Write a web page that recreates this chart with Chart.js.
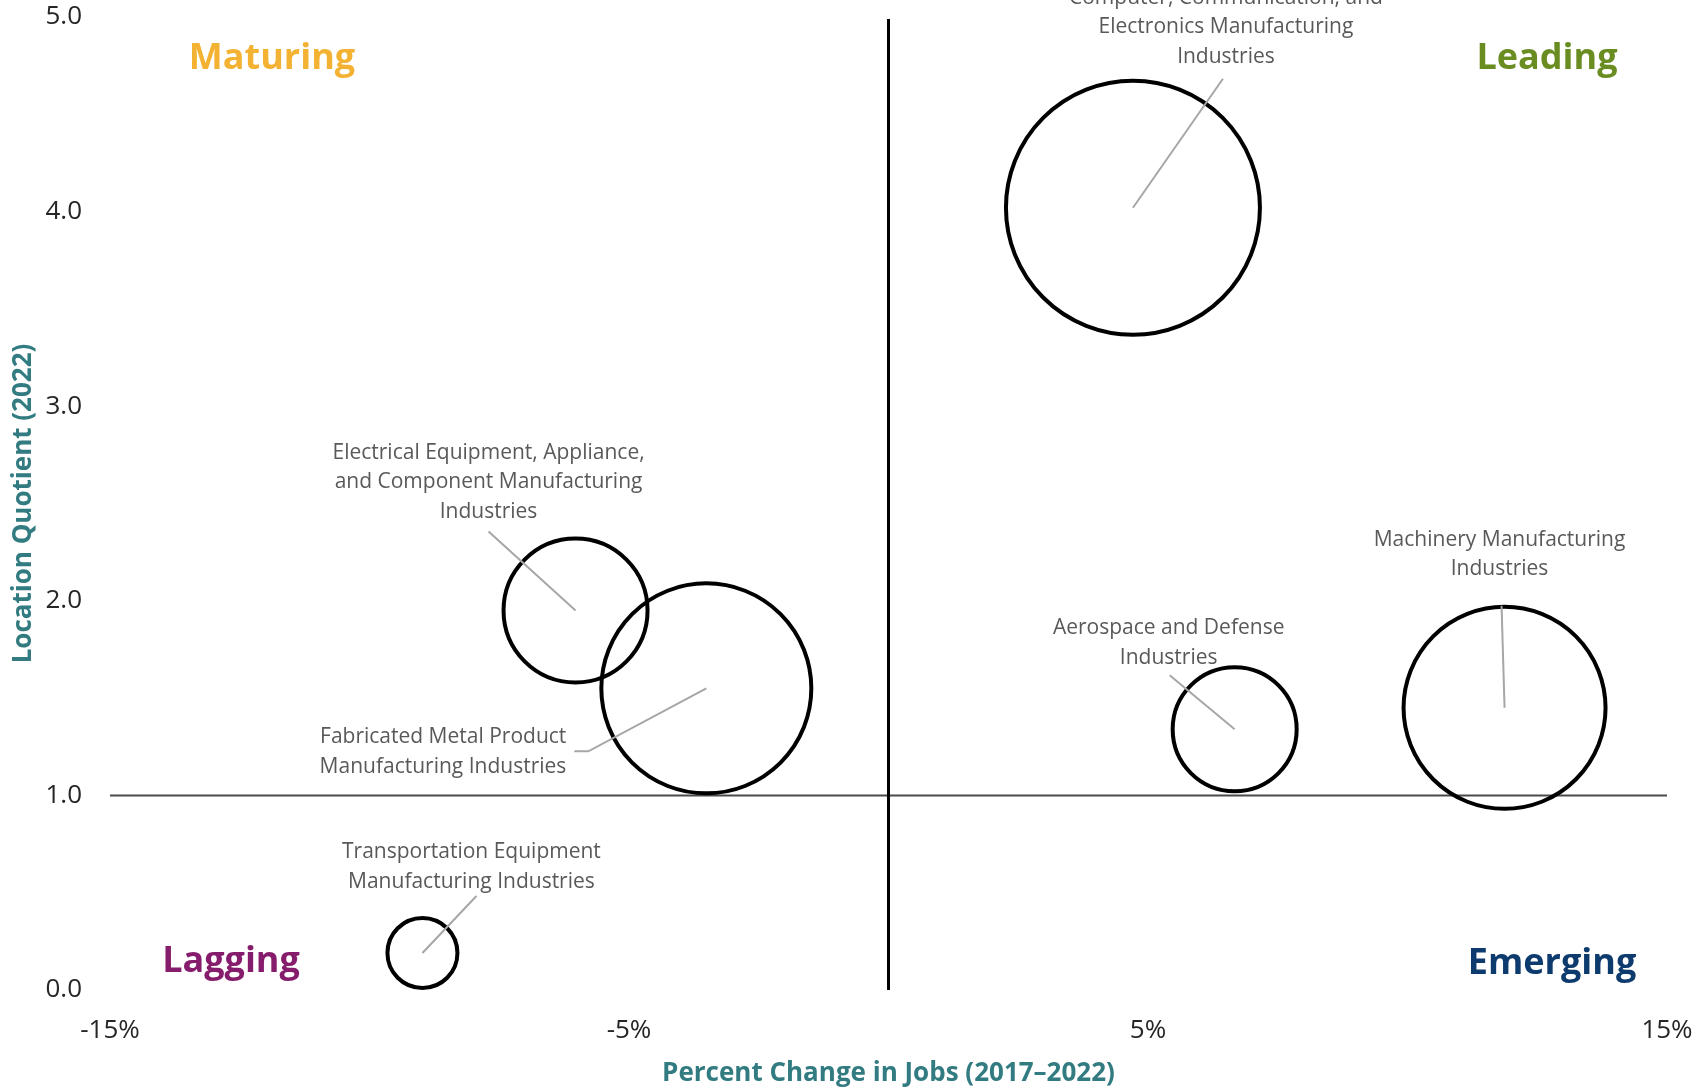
<!DOCTYPE html>
<html>
<head>
<meta charset="utf-8">
<script src="https://cdn.jsdelivr.net/npm/chart.js@4.4.0/dist/chart.umd.min.js"></script>
<style>
  html, body { margin: 0; padding: 0; background: #fff; }
  #wrap { width: 1707px; height: 1089px; position: relative; }
</style>
</head>
<body>
<div id="wrap"><canvas id="chart"></canvas></div>
<script>
// industry clusters: job change 2017-2022 (%), location quotient 2022, bubble size
const industries = [
  ["Computer, Communication, and", "Electronics Manufacturing", "Industries"],
  ["Electrical Equipment, Appliance,", "and Component Manufacturing", "Industries"],
  ["Fabricated Metal Product", "Manufacturing Industries"],
  ["Transportation Equipment", "Manufacturing Industries"],
  ["Aerospace and Defense", "Industries"],
  ["Machinery Manufacturing", "Industries"]
];
const jobChange = [4.71, -6.03, -3.51, -8.98, 6.67, 11.87];
const locationQuotient = [4.02, 1.95, 1.55, 0.19, 1.34, 1.45];
const bubbleSize = [127, 72, 105, 35, 62, 101];

const xTicks = [-15, -5, 5, 15];
const yTicks = [0, 1, 2, 3, 4, 5];

const quadrants = ["Maturing", "Leading", "Lagging", "Emerging"];
const quadrantColors = ["#F4B233", "#6A8D22", "#861C6C", "#0E3B6D"];

// where each callout sits relative to its bubble centre (px)
const callouts = [
  { line: [[90, -129]], tx: 93, ty: -210, align: "center" },
  { line: [[-87, -79]], tx: -87, ty: -158, align: "center" },
  { line: [[-118, 63], [-132, 63]], tx: -140, ty: 49, align: "right" },
  { line: [[54, -57]], tx: 49, ty: -101, align: "center" },
  { line: [[-65, -54]], tx: -66, ty: -101, align: "center" },
  { line: [[-3, -102]], tx: -5, ty: -168, align: "center" }
];

const FONT = "'Open Sans', 'Noto Sans', sans-serif";
const teal = "#327B80";

const quadrantLines = {
  id: "quadrantLines",
  beforeDatasetsDraw(chart) {
    const { ctx, chartArea: a, scales: { x, y } } = chart;
    ctx.save();
    const y1 = y.getPixelForValue(1);
    ctx.strokeStyle = "#4a4a4a";
    ctx.lineWidth = 2;
    ctx.beginPath();
    ctx.moveTo(a.left, y1);
    ctx.lineTo(a.right, y1);
    ctx.stroke();
    const x0 = x.getPixelForValue(0);
    ctx.strokeStyle = "#000";
    ctx.lineWidth = 3;
    ctx.beginPath();
    ctx.moveTo(x0, a.top + 2);
    ctx.lineTo(x0, a.bottom);
    ctx.stroke();
    ctx.restore();
  }
};

const annotations = {
  id: "annotations",
  afterDatasetsDraw(chart) {
    const { ctx, chartArea: a } = chart;
    const meta = chart.getDatasetMeta(0);
    ctx.save();
    meta.data.forEach((pt, i) => {
      const c = callouts[i];
      ctx.strokeStyle = "#a6a6a6";
      ctx.lineWidth = 2;
      ctx.beginPath();
      ctx.moveTo(pt.x, pt.y);
      c.line.forEach(([dx, dy]) => ctx.lineTo(pt.x + dx, pt.y + dy));
      ctx.stroke();
      ctx.fillStyle = "#595959";
      ctx.font = "21px " + FONT;
      ctx.textAlign = c.align;
      ctx.textBaseline = "middle";
      industries[i].forEach((txt, k) => {
        ctx.fillText(txt, pt.x + c.tx, pt.y + c.ty + k * 29.5);
      });
    });

    // quadrant names
    ctx.font = "bold 36px " + FONT;
    ctx.textAlign = "center";
    ctx.textBaseline = "middle";
    const spots = [
      [a.left + 162, a.top + 42],
      [a.right - 120, a.top + 42],
      [a.left + 121, a.bottom - 28],
      [a.right - 115, a.bottom - 26]
    ];
    quadrants.forEach((q, i) => {
      ctx.fillStyle = quadrantColors[i];
      ctx.fillText(q, spots[i][0], spots[i][1]);
    });
    ctx.restore();
  }
};

new Chart(document.getElementById("chart"), {
  type: "bubble",
  data: {
    datasets: [{
      data: jobChange.map((v, i) => ({ x: v, y: locationQuotient[i], r: bubbleSize[i] })),
      backgroundColor: "rgba(0,0,0,0)",
      borderColor: "#000",
      borderWidth: 4,
      clip: false
    }]
  },
  options: {
    responsive: true,
    maintainAspectRatio: false,
    animation: false,
    events: [],
    layout: { autoPadding: false, padding: { top: 17, right: 40, left: 0, bottom: 0 } },
    plugins: { legend: { display: false }, tooltip: { enabled: false } },
    scales: {
      x: {
        type: "linear",
        min: -15,
        max: 15,
        afterBuildTicks: s => { s.ticks = xTicks.map(v => ({ value: v })); },
        afterFit: s => { s.height = 99; s.paddingLeft = 0; s.paddingRight = 0; },
        grid: { display: false, drawTicks: false },
        border: { display: false },
        ticks: {
          padding: 25,
          color: "#262626",
          font: { family: FONT, size: 26 },
          callback: v => v + "%"
        },
        title: {
          display: true,
          text: "Percent Change in Jobs (2017\u20132022)",
          color: teal,
          font: { family: FONT, size: 26, weight: "bold" },
          padding: { top: 0, bottom: 0 }
        }
      },
      y: {
        type: "linear",
        min: 0,
        max: 5,
        afterBuildTicks: s => { s.ticks = yTicks.map(v => ({ value: v })); },
        afterFit: s => { s.width = 110; s.paddingTop = 0; s.paddingBottom = 0; },
        grid: { display: false, drawTicks: false },
        border: { display: false },
        ticks: {
          padding: 28,
          color: "#262626",
          font: { family: FONT, size: 26 },
          callback: v => v.toFixed(1)
        },
        title: {
          display: true,
          text: "Location Quotient (2022)",
          color: teal,
          font: { family: FONT, size: 26, weight: "bold" },
          padding: { top: 8, bottom: 0 }
        }
      }
    }
  },
  plugins: [quadrantLines, annotations]
});
</script>
</body>
</html>
